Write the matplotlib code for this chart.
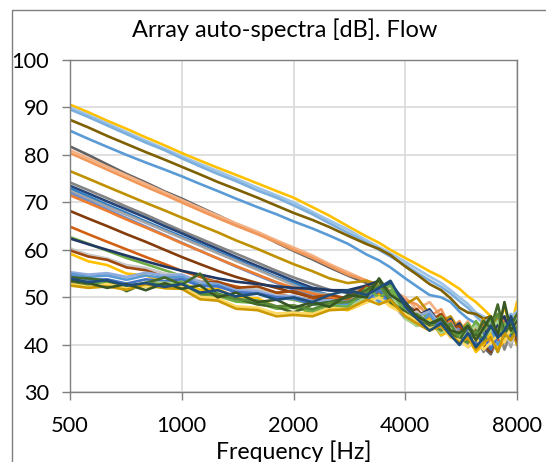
import matplotlib
matplotlib.use("Agg")
import matplotlib.pyplot as plt
from matplotlib.patches import Rectangle

plt.rcParams['font.family'] = ['Lato', 'DejaVu Sans']

# frequency grid [Hz]
freq = [500, 560, 630, 710, 800, 900, 1000, 1120, 1250, 1400, 1600, 1800, 2000,
        2250, 2500, 2800, 3150, 3400, 3650, 4000, 4300, 4650, 5000, 5300, 5600,
        5900, 6200, 6500, 6800, 7100, 7400, 7700, 8000]

# auto-spectra per array channel [dB]
ch01 = [90.6, 89.0, 87.2, 85.5, 83.7, 82.0, 80.4, 78.8, 77.3, 75.8, 74.0, 72.4, 71.0,
        69.0, 67.2, 65.0, 62.8, 61.5, 60.0, 58.3, 57.0, 55.5, 54.3, 53.0, 51.8,
        50.2, 49.0, 47.5, 46.0, 44.0, 48.0, 43.5, 49.0]
ch02 = [90.0, 88.4, 86.6, 84.8, 83.0, 81.3, 79.7, 78.1, 76.6, 75.0, 73.1, 71.5, 70.0,
        68.0, 66.2, 64.3, 62.0, 60.6, 59.3, 57.5, 56.0, 54.4, 53.0, 51.5, 50.0,
        48.6, 46.8, 46.0, 44.0, 45.5, 42.5, 46.0, 47.0]
ch03 = [89.6, 88.0, 86.2, 84.4, 82.6, 81.0, 79.3, 77.6, 76.0, 74.5, 72.5, 71.0, 69.4,
        67.5, 65.6, 63.6, 61.5, 60.0, 58.6, 56.8, 55.2, 53.6, 52.2, 50.8, 49.2,
        47.8, 46.0, 44.5, 45.5, 42.0, 44.0, 46.5, 44.0]
ch04 = [87.4, 85.8, 84.0, 82.3, 80.6, 79.0, 77.5, 75.9, 74.3, 72.8, 71.0, 69.3, 67.8,
        66.3, 64.8, 63.0, 61.2, 60.2, 58.9, 56.5, 54.8, 52.8, 51.5, 49.8, 47.8,
        46.8, 46.5, 45.5, 46.0, 43.5, 45.0, 43.0, 45.5]
ch05 = [85.1, 83.4, 81.7, 80.0, 78.4, 76.9, 75.5, 73.9, 72.4, 70.8, 69.0, 67.5, 66.0,
        64.5, 63.0, 61.3, 59.0, 57.8, 56.3, 54.0, 52.3, 50.5, 50.0, 49.0, 47.0,
        45.5, 44.5, 42.0, 44.0, 41.0, 43.5, 45.0, 42.5]
ch06 = [81.8, 80.0, 78.0, 76.0, 74.2, 72.3, 70.8, 69.0, 67.3, 65.5, 63.6, 61.5, 59.8,
        58.0, 56.3, 54.6, 53.0, 52.5, 51.0, 48.5, 47.0, 45.5, 44.0, 45.0, 42.5,
        41.0, 43.5, 39.5, 38.0, 41.5, 44.0, 40.5, 44.5]
ch07 = [81.0, 79.3, 77.5, 75.7, 73.9, 72.1, 70.5, 68.8, 67.2, 65.6, 63.8, 62.0, 60.5,
        58.8, 57.0, 55.3, 53.5, 52.8, 51.5, 50.0, 47.5, 49.0, 46.0, 44.5, 43.0,
        45.0, 41.5, 44.5, 42.0, 40.0, 43.5, 45.5, 42.5]
ch08 = [80.4, 78.7, 76.9, 75.1, 73.3, 71.6, 70.0, 68.3, 66.7, 65.1, 63.3, 61.6, 60.0,
        58.3, 56.6, 54.8, 53.5, 52.0, 50.5, 49.5, 48.5, 46.0, 47.5, 43.5, 45.0,
        41.5, 44.0, 42.5, 45.5, 41.0, 43.0, 40.5, 43.5]
ch09 = [76.6, 75.0, 73.3, 71.6, 69.9, 68.3, 66.8, 65.2, 63.7, 62.0, 60.2, 58.5, 57.0,
        55.5, 54.0, 53.0, 53.5, 52.5, 51.0, 48.5, 50.0, 46.5, 45.0, 46.0, 43.0,
        44.5, 42.0, 45.5, 41.0, 46.5, 43.0, 44.0, 40.0]
ch10 = [74.2, 72.6, 70.9, 69.1, 67.4, 65.6, 64.0, 62.4, 60.8, 59.2, 57.3, 55.6, 54.2,
        52.8, 51.6, 51.0, 52.5, 50.5, 51.0, 47.5, 45.0, 46.5, 43.5, 42.0, 44.0,
        40.0, 42.5, 38.5, 41.0, 44.0, 39.0, 42.5, 44.0]
ch11 = [73.5, 71.9, 70.2, 68.5, 66.8, 65.0, 63.5, 61.8, 60.2, 58.5, 56.6, 55.0, 53.5,
        52.0, 51.5, 51.0, 51.0, 52.0, 53.0, 49.0, 46.0, 47.5, 44.0, 45.5, 42.0,
        43.5, 40.0, 44.0, 42.5, 45.0, 41.5, 46.0, 43.0]
ch12 = [73.0, 71.3, 69.5, 67.8, 66.0, 64.3, 62.8, 61.2, 59.6, 58.0, 56.0, 54.3, 53.0,
        51.5, 50.5, 49.5, 51.5, 49.5, 50.0, 46.5, 44.0, 45.5, 42.0, 43.5, 40.0,
        42.5, 39.0, 41.5, 43.5, 38.5, 42.0, 44.5, 42.0]
ch13 = [72.4, 70.8, 69.1, 67.4, 65.7, 64.0, 62.5, 60.9, 59.3, 57.7, 55.8, 54.1, 52.6,
        51.0, 50.5, 49.5, 49.5, 51.5, 49.0, 45.5, 47.0, 43.0, 44.5, 41.5, 42.0,
        39.5, 41.0, 43.0, 38.5, 40.5, 44.0, 39.5, 45.0]
ch14 = [72.0, 70.3, 68.5, 66.7, 64.9, 63.1, 61.5, 59.8, 58.2, 56.5, 54.6, 53.0, 51.6,
        50.5, 49.5, 49.0, 51.0, 49.5, 51.5, 47.0, 45.5, 44.0, 45.5, 42.5, 43.5,
        41.0, 42.5, 39.5, 42.0, 44.5, 40.5, 43.0, 42.0]
ch15 = [71.5, 69.9, 68.2, 66.4, 64.7, 63.0, 61.4, 59.8, 58.2, 56.6, 54.8, 53.2, 52.0,
        50.8, 50.0, 49.5, 52.5, 51.0, 50.5, 48.0, 46.0, 47.0, 44.0, 45.0, 42.0,
        43.5, 41.5, 44.0, 40.5, 43.0, 45.5, 41.0, 43.5]
ch16 = [68.2, 66.6, 65.0, 63.3, 61.7, 60.0, 58.5, 57.0, 55.6, 54.3, 53.0, 52.0, 51.0,
        50.0, 49.5, 49.0, 50.0, 50.5, 49.0, 46.5, 47.5, 44.5, 45.5, 43.0, 44.5,
        41.5, 43.0, 40.0, 38.5, 42.0, 40.5, 44.0, 41.0]
ch17 = [64.9, 63.3, 61.7, 60.1, 58.5, 57.0, 55.6, 54.3, 53.2, 52.3, 51.5, 50.8, 50.0,
        49.5, 49.5, 48.5, 49.5, 51.0, 50.0, 47.0, 45.0, 46.5, 43.5, 44.5, 41.0,
        43.0, 40.0, 42.5, 44.0, 41.0, 43.5, 42.0, 44.5]
ch18 = [62.7, 61.3, 59.8, 58.3, 57.0, 55.7, 54.5, 53.3, 52.5, 51.8, 51.0, 50.0, 49.5,
        48.5, 48.5, 49.0, 50.0, 51.0, 52.5, 47.5, 45.5, 46.5, 44.0, 43.0, 44.5,
        42.0, 45.0, 43.0, 46.0, 42.5, 44.5, 43.0, 45.5]
ch19 = [62.4, 61.2, 60.0, 58.8, 57.6, 56.5, 55.6, 54.8, 54.0, 53.3, 52.8, 52.3, 52.0,
        51.8, 51.5, 51.5, 52.5, 53.5, 50.5, 48.0, 46.5, 44.0, 45.5, 43.0, 44.5,
        41.5, 40.0, 43.5, 41.5, 44.5, 46.0, 42.0, 44.0]
ch20 = [60.3, 59.0, 58.2, 56.8, 56.2, 55.0, 54.7, 53.5, 53.2, 51.8, 51.7, 50.4, 50.2,
        49.0, 49.4, 48.8, 51.5, 49.5, 50.5, 46.0, 47.0, 44.5, 43.0, 44.0, 41.0,
        42.5, 39.0, 41.0, 43.5, 39.5, 42.0, 40.5, 43.0]
ch21 = [59.9, 58.6, 57.9, 56.3, 55.7, 54.3, 54.2, 53.2, 53.3, 52.0, 52.3, 51.0, 51.3,
        50.0, 50.5, 49.8, 52.3, 50.5, 49.8, 48.0, 46.0, 45.0, 46.5, 43.5, 44.0,
        41.0, 43.0, 40.0, 42.5, 39.0, 41.5, 43.5, 41.5]
ch22 = [59.2, 57.6, 56.8, 55.0, 54.6, 53.2, 53.0, 51.6, 51.8, 50.0, 49.8, 48.0, 48.3,
        46.5, 47.8, 47.3, 49.0, 50.5, 48.5, 46.5, 44.0, 45.5, 42.0, 43.0, 40.5,
        41.5, 38.5, 40.0, 42.5, 39.0, 41.0, 43.5, 44.5]
ch23 = [55.3, 54.8, 55.1, 54.3, 55.2, 54.6, 54.8, 53.2, 52.8, 51.5, 51.3, 50.2, 50.3,
        49.2, 49.4, 49.0, 51.3, 51.7, 50.8, 47.5, 46.0, 47.0, 44.0, 44.5, 42.0,
        44.0, 41.0, 43.0, 45.0, 42.0, 44.5, 43.0, 45.0]
ch24 = [55.0, 54.3, 54.6, 53.7, 54.6, 54.1, 54.3, 52.6, 52.6, 51.0, 50.8, 49.6, 49.8,
        48.5, 48.9, 48.4, 51.5, 49.0, 50.5, 46.0, 44.0, 46.5, 43.0, 42.5, 40.0,
        42.5, 39.5, 41.0, 43.5, 40.0, 42.0, 44.5, 42.5]
ch25 = [54.5, 53.7, 53.8, 52.9, 53.8, 53.4, 53.8, 52.4, 52.3, 51.1, 50.8, 50.0, 49.8,
        48.6, 48.9, 49.0, 49.5, 51.5, 49.0, 47.0, 45.0, 43.5, 45.0, 42.0, 41.0,
        43.5, 40.0, 42.5, 39.0, 42.0, 44.0, 41.5, 42.5]
ch26 = [54.2, 53.2, 53.3, 52.2, 53.1, 53.1, 52.8, 51.1, 50.8, 49.6, 49.3, 48.1, 48.3,
        47.0, 47.8, 48.0, 50.0, 52.5, 51.0, 45.5, 44.0, 45.0, 42.5, 43.5, 41.5,
        42.5, 44.0, 41.5, 43.0, 45.0, 42.0, 43.5, 45.5]
ch27 = [53.8, 52.9, 53.3, 52.1, 52.3, 52.1, 53.3, 50.6, 50.3, 49.1, 48.8, 47.6, 47.8,
        47.0, 48.3, 48.0, 52.0, 50.0, 51.5, 47.0, 45.0, 44.0, 46.0, 43.0, 42.0,
        44.5, 41.5, 43.0, 45.5, 42.0, 44.5, 42.5, 44.0]
ch28 = [54.2, 54.0, 53.5, 51.3, 53.0, 54.2, 52.7, 55.0, 50.5, 49.8, 48.5, 48.0, 46.8,
        48.5, 49.0, 50.0, 51.5, 53.5, 49.0, 47.0, 45.0, 44.0, 45.5, 42.5, 41.0,
        44.0, 42.0, 45.0, 43.5, 48.5, 42.5, 44.0, 46.5]
ch29 = [53.0, 52.5, 52.8, 52.1, 53.1, 52.6, 52.3, 50.6, 50.8, 49.6, 49.3, 48.1, 48.3,
        47.5, 48.8, 49.0, 51.0, 52.5, 49.5, 46.0, 46.5, 44.5, 43.0, 44.5, 41.0,
        40.5, 43.0, 41.0, 44.0, 46.5, 42.0, 41.0, 44.5]
ch30 = [52.8, 52.2, 52.8, 51.9, 52.3, 52.1, 52.3, 50.1, 49.8, 48.1, 47.8, 46.6, 46.8,
        46.5, 47.8, 47.5, 49.0, 50.0, 48.0, 46.5, 45.0, 43.5, 44.0, 41.5, 41.0,
        39.5, 41.5, 39.0, 40.5, 42.0, 40.5, 43.5, 44.5]
ch31 = [52.5, 52.0, 52.3, 51.6, 52.8, 51.9, 51.8, 49.6, 49.3, 47.6, 47.3, 46.0, 46.3,
        46.0, 47.3, 47.5, 49.5, 48.5, 49.5, 46.0, 44.5, 43.0, 44.0, 42.0, 40.5,
        41.5, 39.0, 40.5, 41.5, 38.5, 42.5, 41.0, 43.0]
ch32 = [53.5, 53.0, 52.0, 52.8, 51.5, 53.0, 51.8, 52.5, 50.0, 51.0, 49.0, 49.5, 47.8,
        49.0, 48.0, 50.5, 50.0, 54.0, 50.5, 48.5, 46.0, 44.5, 45.5, 43.0, 42.5,
        44.0, 41.0, 43.5, 46.0, 42.0, 49.0, 43.0, 45.0]
ch33 = [54.0, 53.2, 53.6, 52.5, 53.0, 52.2, 52.8, 51.0, 51.5, 50.2, 50.8, 49.5, 50.0,
        49.0, 50.5, 51.5, 50.5, 52.0, 53.5, 48.0, 45.5, 43.0, 44.5, 42.0, 40.0,
        42.5, 39.5, 41.5, 44.0, 41.5, 43.0, 45.5, 42.0]

channels = [ch01, ch02, ch03, ch04, ch05, ch06, ch07, ch08, ch09, ch10, ch11,
            ch12, ch13, ch14, ch15, ch16, ch17, ch18, ch19, ch20, ch21, ch22,
            ch23, ch24, ch25, ch26, ch27, ch28, ch29, ch30, ch31, ch32, ch33]
colors = ['#FFC000', '#9DC3E6', '#7CAFDD', '#7F6000', '#5B9BD5', '#636363',
          '#F4B183', '#F1975A', '#BF9000', '#848484', '#264478', '#327DC2',
          '#A5A5A5', '#698ED0', '#ED7D31', '#843C0C', '#D26012', '#70AD47',
          '#203864', '#C9C9C9', '#9E480E', '#FFC000', '#8FAADC', '#5B9BD5',
          '#4472C4', '#A9D18E', '#70AD47', '#43682B', '#5A8A39', '#FFD966',
          '#CC9A00', '#375623', '#1F4E79']

xticks = [500, 1000, 2000, 4000, 8000]
yticks = [30, 40, 50, 60, 70, 80, 90, 100]

fig = plt.figure(figsize=(5.46, 4.62), dpi=100)
ax = fig.add_axes([70 / 546, 1 - 392.3 / 462, 447 / 546, 332.3 / 462])

for vals, c in zip(channels, colors):
    ax.plot(freq, vals, color=c, lw=1.9, solid_joinstyle='round')

ax.set_xscale('log')
ax.set_xlim(500, 8000)
ax.set_ylim(30, 100)
ax.set_xticks(xticks)
ax.set_xticklabels([str(t) for t in xticks])
ax.xaxis.set_minor_locator(matplotlib.ticker.NullLocator())
ax.set_yticks(yticks)
ax.grid(True, color='#d9d9d9', lw=1.2)
ax.set_axisbelow(True)
for s in ax.spines.values():
    s.set_color('#7f7f7f')
    s.set_linewidth(1.0)
ax.tick_params(axis='both', colors='#7f7f7f', labelcolor='black', labelsize=15.7,
               length=6, width=1.0)
ax.tick_params(axis='y', pad=9)
ax.tick_params(axis='x', pad=11)

fig.text(285 / 546, 1 - 30 / 462, 'Array auto-spectra [dB]. Flow', ha='center',
         va='center', fontsize=17)
fig.text(294 / 546, 1 - 452 / 462, 'Frequency [Hz]', ha='center', va='center',
         fontsize=16.6)

# chart-area border (left and top edges visible)
fig.patches.append(Rectangle((12 / 546, -0.1), 1.2, 1 - 10 / 462 + 0.1,
                             transform=fig.transFigure, fill=False,
                             edgecolor='#7f7f7f', lw=1.0))

fig.savefig('out.png', dpi=100)
